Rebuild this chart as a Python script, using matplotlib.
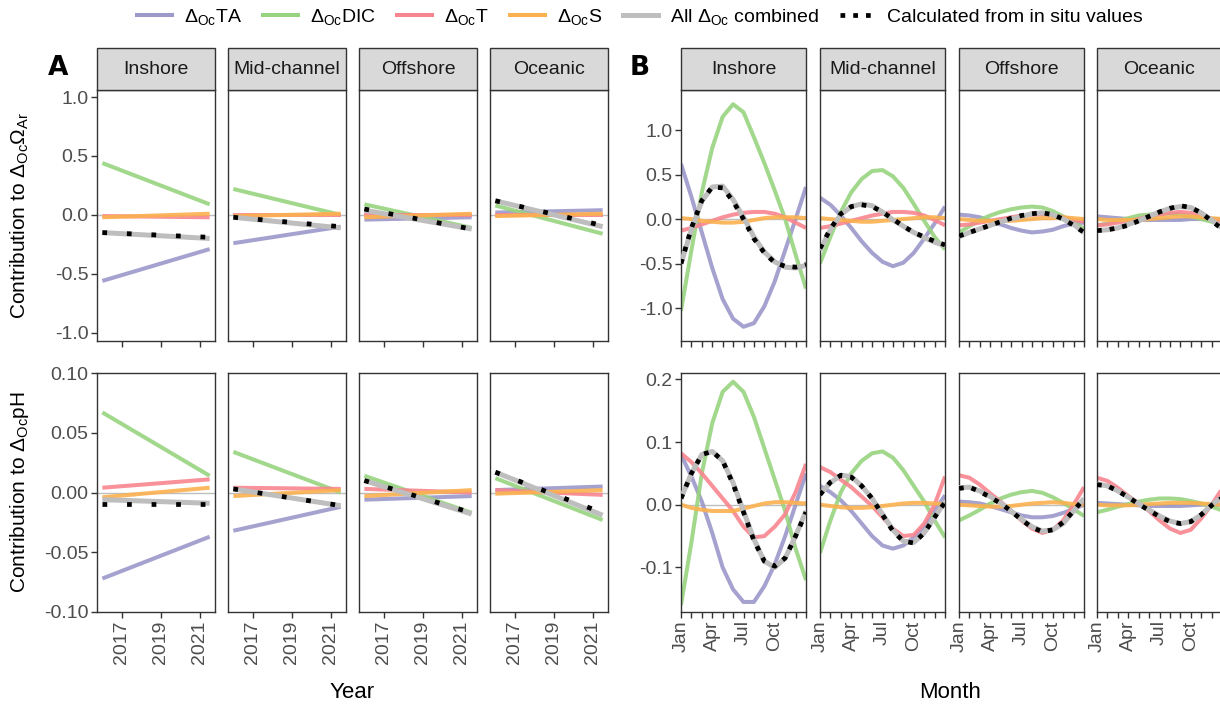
import numpy as np
import matplotlib.pyplot as plt
from matplotlib.patches import Rectangle
from matplotlib.lines import Line2D

plt.rcParams['font.family'] = ['Liberation Sans', 'DejaVu Sans']
plt.rcParams['mathtext.fontset'] = 'custom'
plt.rcParams['mathtext.rm'] = 'Liberation Sans'
plt.rcParams['mathtext.it'] = 'Liberation Sans:italic'
plt.rcParams['axes.unicode_minus'] = False

regions = ['Inshore', 'Mid-channel', 'Offshore', 'Oceanic']
series = ['TA', 'DIC', 'T', 'S']
colors = ['#9c98ca', '#98d480', '#f8858f', '#fbb14f']
grey = '#bebebe'

# ---- panel A : linear trends, values at first / last year ----
years = [2016.0, 2021.5]
year_ticks = [2017, 2019, 2021]

om_ta_start = [-0.56, -0.24, -0.04, 0.02]
om_ta_end = [-0.29, -0.10, -0.02, 0.04]
om_dic_start = [0.44, 0.22, 0.09, 0.08]
om_dic_end = [0.09, 0.0, -0.11, -0.16]
om_t_start = [-0.01, 0.0, 0.0, 0.0]
om_t_end = [-0.02, 0.0, 0.0, 0.0]
om_s_start = [-0.02, -0.01, -0.02, -0.01]
om_s_end = [0.01, 0.01, 0.01, 0.01]
om_all_start = [-0.15, -0.02, 0.04, 0.12]
om_all_end = [-0.20, -0.11, -0.12, -0.10]
om_situ_start = [-0.15, -0.02, 0.05, 0.12]
om_situ_end = [-0.19, -0.10, -0.12, -0.09]

ph_ta_start = [-0.072, -0.032, -0.006, 0.002]
ph_ta_end = [-0.037, -0.012, -0.003, 0.005]
ph_dic_start = [0.067, 0.034, 0.014, 0.012]
ph_dic_end = [0.014, 0.0, -0.017, -0.023]
ph_t_start = [0.004, 0.004, 0.003, 0.002]
ph_t_end = [0.011, 0.003, 0.0, -0.002]
ph_s_start = [-0.004, -0.003, -0.003, -0.001]
ph_s_end = [0.004, 0.002, 0.002, 0.002]
ph_all_start = [-0.006, 0.003, 0.010, 0.017]
ph_all_end = [-0.009, -0.011, -0.018, -0.019]
ph_situ_start = [-0.010, 0.003, 0.010, 0.017]
ph_situ_end = [-0.010, -0.011, -0.017, -0.017]

# ---- panel B : seasonal cycle, one value per month boundary (Jan 1 .. Dec 31) ----
months = list(range(13))
month_labels = ['Jan', '', '', 'Apr', '', '', 'Jul', '', '', 'Oct', '', '', '']

om_ta_month = [
    [0.62, 0.25, -0.15, -0.55, -0.9, -1.12, -1.21, -1.17, -0.98, -0.7, -0.35, 0.0, 0.36],
    [0.24, 0.16, 0.04, -0.1, -0.25, -0.38, -0.48, -0.53, -0.49, -0.38, -0.22, -0.05, 0.14],
    [0.05, 0.04, 0.02, -0.02, -0.06, -0.1, -0.13, -0.15, -0.14, -0.12, -0.08, -0.05, -0.04],
    [0.03, 0.02, 0.01, 0.0, -0.01, -0.01, -0.01, -0.01, -0.01, 0.0, 0.0, 0.0, 0.0]]
om_dic_month = [
    [-1.03, -0.35, 0.3, 0.8, 1.15, 1.29, 1.2, 0.92, 0.63, 0.32, 0.0, -0.4, -0.78],
    [-0.5, -0.2, 0.08, 0.3, 0.45, 0.54, 0.55, 0.48, 0.35, 0.17, -0.02, -0.2, -0.34],
    [-0.15, -0.08, -0.01, 0.04, 0.08, 0.11, 0.13, 0.14, 0.13, 0.09, 0.03, -0.04, -0.11],
    [-0.07, -0.05, -0.02, 0.01, 0.04, 0.05, 0.06, 0.06, 0.05, 0.03, 0.0, -0.03, -0.06]]
om_t_month = [
    [-0.13, -0.1, -0.06, -0.02, 0.02, 0.05, 0.07, 0.08, 0.08, 0.06, 0.02, -0.04, -0.1],
    [-0.1, -0.08, -0.05, -0.02, 0.01, 0.04, 0.06, 0.08, 0.08, 0.07, 0.04, -0.01, -0.07],
    [-0.07, -0.06, -0.04, -0.02, 0.0, 0.02, 0.04, 0.05, 0.05, 0.04, 0.02, -0.01, -0.03],
    [-0.07, -0.06, -0.04, -0.02, 0.0, 0.03, 0.05, 0.07, 0.08, 0.07, 0.04, 0.0, -0.04]]
om_s_month = [
    [0.01, 0.0, -0.02, -0.03, -0.04, -0.04, -0.03, -0.01, 0.01, 0.02, 0.02, 0.02, 0.01],
    [0.01, 0.0, -0.01, -0.02, -0.03, -0.03, -0.02, -0.01, 0.0, 0.01, 0.02, 0.02, 0.01],
    [0.0, -0.01, -0.02, -0.02, -0.02, -0.02, -0.01, 0.0, 0.01, 0.01, 0.02, 0.01, 0.0],
    [0.0, -0.01, -0.01, -0.01, -0.01, 0.0, 0.01, 0.02, 0.03, 0.03, 0.02, 0.01, 0.0]]
om_all_month = [
    [-0.5, -0.12, 0.2, 0.36, 0.37, 0.22, 0.02, -0.2, -0.37, -0.48, -0.54, -0.55, -0.52],
    [-0.35, -0.12, 0.05, 0.14, 0.17, 0.15, 0.08, -0.01, -0.08, -0.15, -0.21, -0.26, -0.30],
    [-0.2, -0.15, -0.11, -0.07, -0.03, 0.0, 0.03, 0.06, 0.07, 0.05, 0.0, -0.06, -0.15],
    [-0.13, -0.12, -0.1, -0.06, -0.02, 0.03, 0.08, 0.12, 0.14, 0.13, 0.07, -0.01, -0.1]]
om_situ_month = [
    [-0.5, -0.1, 0.21, 0.36, 0.35, 0.2, 0.0, -0.22, -0.38, -0.49, -0.53, -0.54, -0.51],
    [-0.33, -0.11, 0.06, 0.14, 0.16, 0.14, 0.08, 0.0, -0.08, -0.15, -0.2, -0.25, -0.29],
    [-0.19, -0.15, -0.11, -0.07, -0.03, 0.01, 0.04, 0.06, 0.07, 0.05, 0.0, -0.07, -0.15],
    [-0.13, -0.12, -0.1, -0.07, -0.02, 0.03, 0.08, 0.12, 0.15, 0.13, 0.07, -0.02, -0.11]]

ph_ta_month = [
    [0.08, 0.045, 0.005, -0.045, -0.1, -0.135, -0.155, -0.155, -0.13, -0.095, -0.05, 0.0, 0.05],
    [0.03, 0.02, 0.007, -0.01, -0.03, -0.05, -0.065, -0.07, -0.065, -0.052, -0.035, -0.01, 0.015],
    [0.005, 0.004, 0.002, -0.002, -0.007, -0.012, -0.017, -0.02, -0.02, -0.018, -0.013, -0.007, 0.0],
    [0.003, 0.002, 0.001, 0.0, -0.001, -0.002, -0.002, -0.002, -0.002, -0.001, 0.0, 0.0, 0.0]]
ph_dic_month = [
    [-0.16, -0.06, 0.05, 0.13, 0.18, 0.196, 0.18, 0.14, 0.09, 0.04, -0.01, -0.07, -0.12],
    [-0.077, -0.025, 0.02, 0.05, 0.07, 0.082, 0.085, 0.075, 0.055, 0.03, 0.005, -0.025, -0.052],
    [-0.025, -0.017, -0.008, 0.002, 0.01, 0.016, 0.02, 0.022, 0.019, 0.012, 0.003, -0.007, -0.018],
    [-0.012, -0.008, -0.003, 0.001, 0.005, 0.008, 0.01, 0.01, 0.009, 0.006, 0.002, -0.003, -0.009]]
ph_t_month = [
    [0.082, 0.068, 0.05, 0.03, 0.01, -0.01, -0.035, -0.052, -0.05, -0.035, -0.015, 0.02, 0.065],
    [0.06, 0.052, 0.04, 0.028, 0.013, -0.002, -0.02, -0.038, -0.05, -0.048, -0.03, 0.0, 0.045],
    [0.047, 0.043, 0.032, 0.018, 0.005, -0.01, -0.025, -0.038, -0.045, -0.04, -0.025, 0.0, 0.028],
    [0.043, 0.038, 0.027, 0.014, 0.002, -0.01, -0.025, -0.038, -0.045, -0.04, -0.022, 0.0, 0.025]]
ph_s_month = [
    [0.0, -0.005, -0.008, -0.01, -0.01, -0.01, -0.006, -0.002, 0.002, 0.004, 0.004, 0.003, 0.002],
    [0.0, -0.002, -0.004, -0.005, -0.005, -0.004, -0.002, 0.0, 0.002, 0.003, 0.003, 0.002, 0.001],
    [0.0, -0.001, -0.002, -0.003, -0.003, -0.002, 0.0, 0.002, 0.003, 0.004, 0.003, 0.001, 0.0],
    [0.0, -0.001, -0.001, -0.001, 0.0, 0.001, 0.002, 0.003, 0.003, 0.003, 0.002, 0.001, 0.0]]
ph_all_month = [
    [0.01, 0.05, 0.08, 0.085, 0.07, 0.035, -0.01, -0.055, -0.09, -0.1, -0.085, -0.05, -0.01],
    [0.017, 0.035, 0.047, 0.045, 0.03, 0.01, -0.015, -0.04, -0.058, -0.06, -0.045, -0.02, 0.005],
    [0.027, 0.028, 0.022, 0.013, 0.003, -0.01, -0.023, -0.035, -0.042, -0.04, -0.03, -0.01, 0.01],
    [0.033, 0.03, 0.022, 0.012, 0.002, -0.008, -0.018, -0.026, -0.03, -0.027, -0.016, 0.0, 0.012]]
ph_situ_month = [
    [0.01, 0.05, 0.08, 0.085, 0.07, 0.033, -0.012, -0.057, -0.09, -0.098, -0.085, -0.05, -0.012],
    [0.016, 0.036, 0.047, 0.044, 0.03, 0.01, -0.016, -0.042, -0.058, -0.061, -0.045, -0.02, 0.004],
    [0.026, 0.028, 0.021, 0.012, 0.002, -0.01, -0.024, -0.036, -0.043, -0.04, -0.028, -0.01, 0.01],
    [0.032, 0.03, 0.022, 0.012, 0.001, -0.009, -0.019, -0.027, -0.03, -0.027, -0.016, -0.001, 0.011]]

# ---- layout (pixels of a 1220x710 figure) ----
W, H = 1220, 710
fig = plt.figure(figsize=(W / 100, H / 100), dpi=100)

a_lefts, a_width = [97, 228, 359, 490], 118
b_lefts, b_width = [681, 820, 959, 1097], 125
rows = [(90, 341), (373, 612)]
strip_h = 42
edge = '#333333'
tick_col = '#4d4d4d'


def add_ax(x0, width, y0, y1):
    return fig.add_axes([x0 / W, 1 - y1 / H, width / W, (y1 - y0) / H])


def style(ax, strip_text=None):
    for sp in ax.spines.values():
        sp.set_color(edge)
        sp.set_linewidth(1.0)
    ax.tick_params(direction='out', length=4, width=1, color=edge,
                   labelsize=14, labelcolor=tick_col, pad=2)
    if strip_text is not None:
        h = strip_h / ax.bbox.height
        ax.add_patch(Rectangle((0, 1), 1, h, transform=ax.transAxes, clip_on=False,
                               facecolor='#d9d9d9', edgecolor=edge, lw=1.0, zorder=5))
        ax.text(0.5, 1 + h / 2, strip_text, transform=ax.transAxes, ha='center',
                va='center', fontsize=14, color='#1a1a1a', zorder=6)


def draw(ax, x, comps, total, situ, dots):
    ax.axhline(0, color=grey, lw=1.0, zorder=1)
    for vals, c in zip(comps, colors):
        ax.plot(x, vals, color=c, lw=2.9, alpha=0.9, solid_capstyle='butt',
                solid_joinstyle='round', zorder=2)
    ax.plot(x, total, color=grey, lw=3.6, solid_capstyle='butt',
            solid_joinstyle='round', zorder=3)
    ax.plot(x, situ, color='black', lw=3.4, linestyle=dots, dash_capstyle='butt', zorder=4)


fig.canvas.draw()

# panel A
om_a = [(om_ta_start, om_ta_end), (om_dic_start, om_dic_end), (om_t_start, om_t_end),
        (om_s_start, om_s_end)]
ph_a = [(ph_ta_start, ph_ta_end), (ph_dic_start, ph_dic_end), (ph_t_start, ph_t_end),
        (ph_s_start, ph_s_end)]
for r, (y0, y1) in enumerate(rows):
    for i, reg in enumerate(regions):
        ax = add_ax(a_lefts[i], a_width, y0, y1)
        if r == 0:
            comps = [[s[i], e[i]] for s, e in om_a]
            draw(ax, years, comps, [om_all_start[i], om_all_end[i]],
                 [om_situ_start[i], om_situ_end[i]], (0, (1, 4.2)))
            ax.set_ylim(-1.07, 1.06)
            ax.set_yticks([-1.0, -0.5, 0.0, 0.5, 1.0])
            ax.set_yticklabels(['-1.0', '-0.5', '0.0', '0.5', '1.0'])
        else:
            comps = [[s[i], e[i]] for s, e in ph_a]
            draw(ax, years, comps, [ph_all_start[i], ph_all_end[i]],
                 [ph_situ_start[i], ph_situ_end[i]], (0, (1, 4.2)))
            ax.set_ylim(-0.1, 0.1)
            ax.set_yticks([-0.10, -0.05, 0.0, 0.05, 0.10])
            ax.set_yticklabels(['-0.10', '-0.05', '0.00', '0.05', '0.10'])
        ax.set_xlim(2015.725, 2021.775)
        ax.set_xticks(year_ticks)
        if r == 1:
            ax.set_xticklabels([str(y) for y in year_ticks], rotation=90)
        else:
            ax.set_xticklabels([])
        if i > 0:
            ax.tick_params(axis='y', left=False, labelleft=False)
        style(ax, reg if r == 0 else None)

# panel B
om_b = [om_ta_month, om_dic_month, om_t_month, om_s_month]
ph_b = [ph_ta_month, ph_dic_month, ph_t_month, ph_s_month]
for r, (y0, y1) in enumerate(rows):
    for i, reg in enumerate(regions):
        ax = add_ax(b_lefts[i], b_width, y0, y1)
        if r == 0:
            draw(ax, months, [s[i] for s in om_b], om_all_month[i], om_situ_month[i],
                 (0, (1, 1.7)))
            ax.set_ylim(-1.37, 1.45)
            ax.set_yticks([-1.0, -0.5, 0.0, 0.5, 1.0])
            ax.set_yticklabels(['-1.0', '-0.5', '0.0', '0.5', '1.0'])
        else:
            draw(ax, months, [s[i] for s in ph_b], ph_all_month[i], ph_situ_month[i],
                 (0, (1, 1.7)))
            ax.set_ylim(-0.171, 0.21)
            ax.set_yticks([-0.1, 0.0, 0.1, 0.2])
            ax.set_yticklabels(['-0.1', '0.0', '0.1', '0.2'])
        ax.set_xlim(0, 12)
        ax.set_xticks(months)
        if r == 1:
            ax.set_xticklabels(month_labels, rotation=90)
        else:
            ax.set_xticklabels([])
        if i > 0:
            ax.tick_params(axis='y', left=False, labelleft=False)
        style(ax, reg if r == 0 else None)

# labels
fig.text(20 / W, 1 - 215 / H, r'Contribution to $\Delta_{\mathrm{Oc}}\Omega_{\mathrm{Ar}}$',
         rotation=90, ha='center', va='center', fontsize=15)
fig.text(20 / W, 1 - 492 / H, r'Contribution to $\Delta_{\mathrm{Oc}}$pH',
         rotation=90, ha='center', va='center', fontsize=15)
fig.text(352 / W, 1 - 692 / H, 'Year', ha='center', va='center', fontsize=16)
fig.text(950 / W, 1 - 692 / H, 'Month', ha='center', va='center', fontsize=16)
fig.text(58 / W, 1 - 68 / H, 'A', ha='center', va='center', fontsize=19,
         fontweight='bold', family='DejaVu Sans')
fig.text(640 / W, 1 - 68 / H, 'B', ha='center', va='center', fontsize=19,
         fontweight='bold', family='DejaVu Sans')

# legend
handles = [Line2D([], [], color=c, lw=2.9) for c in colors]
handles.append(Line2D([], [], color=grey, lw=3.6))
handles.append(Line2D([], [], color='black', lw=3.4, linestyle=(0, (1, 1.7)),
                      dash_capstyle='butt'))
labels = [r'$\Delta_{\mathrm{Oc}}$' + s for s in series]
labels += [r'All $\Delta_{\mathrm{Oc}}$ combined', 'Calculated from in situ values']
fig.legend(handles, labels, loc='upper center', bbox_to_anchor=(640 / W, 1.015), ncol=6,
           frameon=False, fontsize=14, handlelength=1.8, handletextpad=0.6,
           columnspacing=1.1)

fig.savefig('out.png', dpi=100)
